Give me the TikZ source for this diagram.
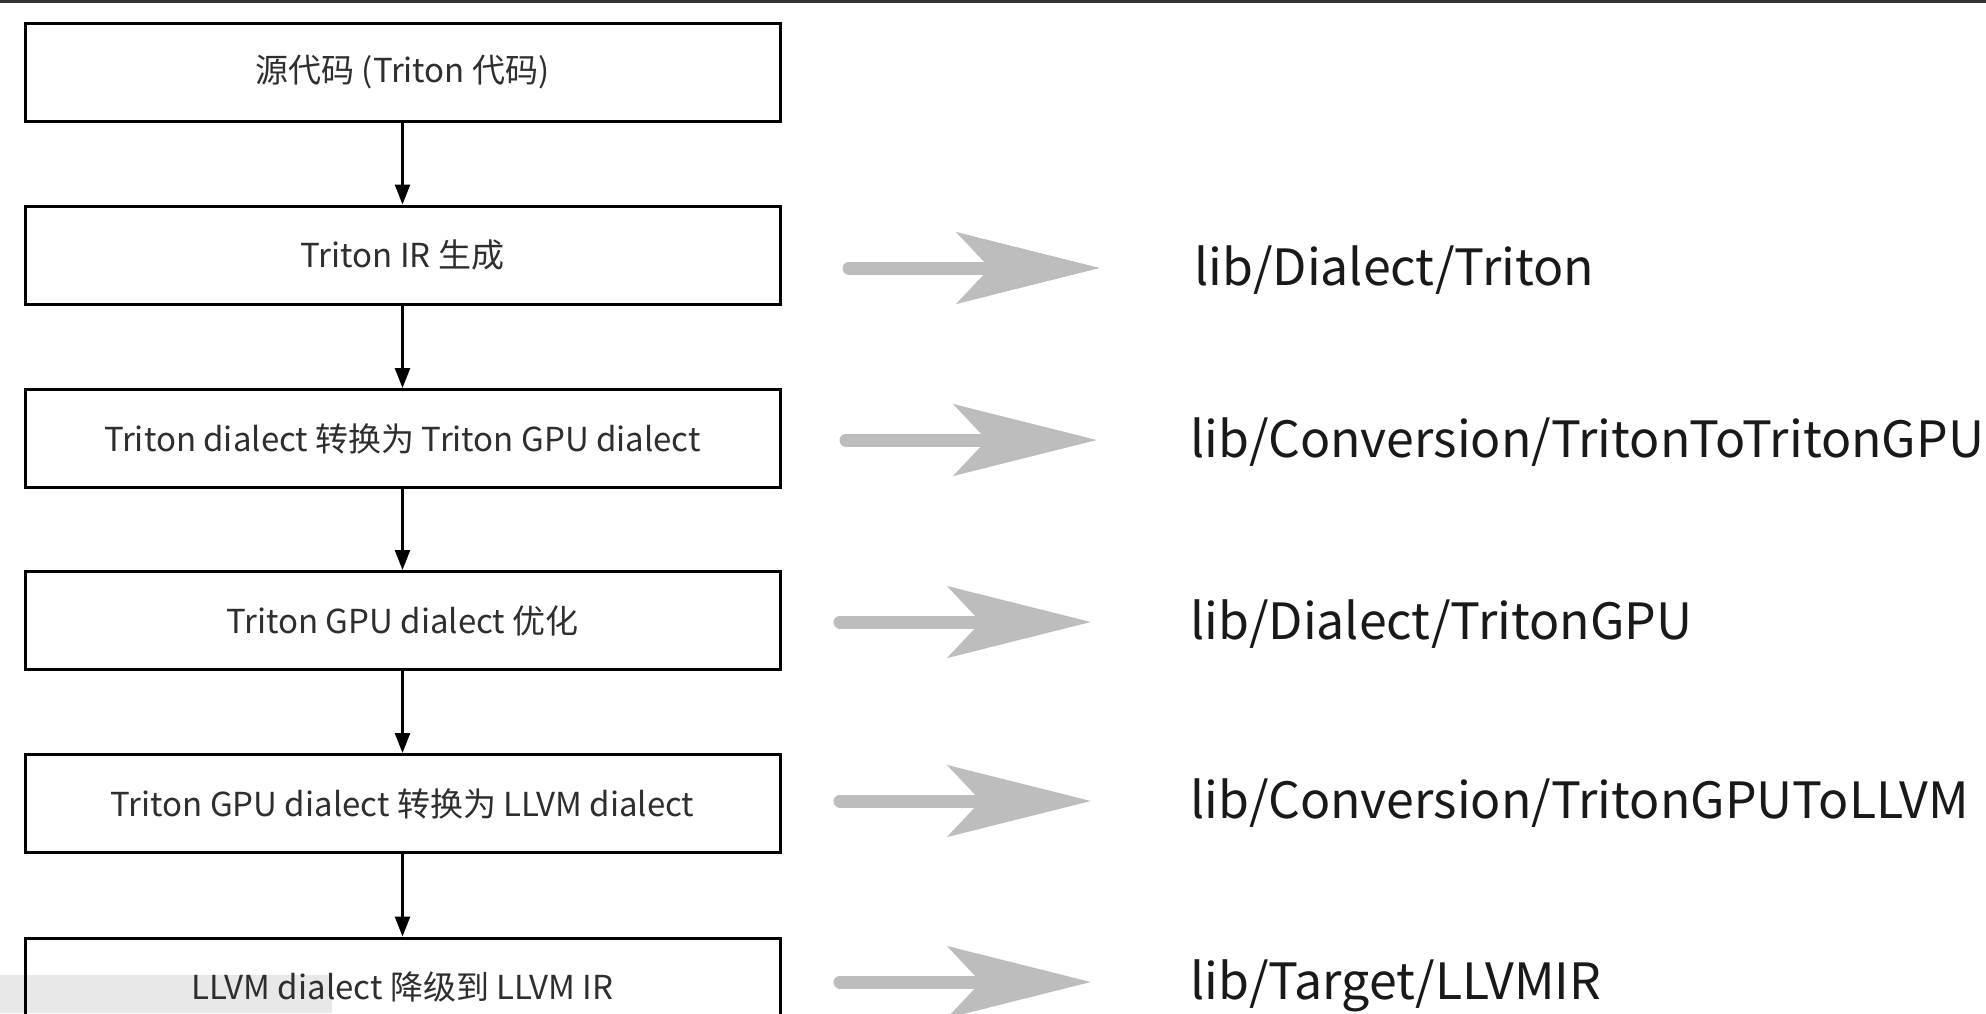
\documentclass[tikz,border=0pt]{standalone}
\usepackage{fontspec}
\newfontfamily\cjk{Noto Sans CJK SC}
\usetikzlibrary{arrows.meta}
\begin{document}
\begin{tikzpicture}[x=1pt,y=-1pt,
  stepbox/.style={draw=black,line width=3pt,minimum width=755pt,minimum height=98pt,inner sep=0pt,font=\cjk\fontsize{33}{36}\selectfont,text=black!82},
  flow/.style={line width=2.5pt,-{Triangle[length=20pt,width=15pt]}},
  bigarrow/.style={draw=black!26,line width=13pt,line cap=round,-{Stealth[length=143pt,width=71pt,inset=33pt]}},
  pathlabel/.style={anchor=base west,inner sep=0pt,font=\cjk\fontsize{50}{56}\selectfont,text=black!90}]
\useasboundingbox (0,0) rectangle (1986,1013);
\clip (0,0) rectangle (1986,1013);
\fill[white] (0,0) rectangle (1986,1013);
\fill[black!80] (0,0) rectangle (1986,3);
% player overlay strip (behind)
\fill[black!9] (0,975) rectangle (332,1013);
% boxes
\node[stepbox] (b1) at (402.5,72.5) {源代码 (Triton 代码)};
\node[stepbox] (b2) at (402.5,255) {Triton IR 生成};
\node[stepbox] (b3) at (402.5,438.5) {Triton dialect 转换为 Triton GPU dialect};
\node[stepbox] (b4) at (402.5,620.5) {Triton GPU dialect 优化};
\node[stepbox] (b5) at (402.5,803.5) {Triton GPU dialect 转换为 LLVM dialect};
\node[stepbox] (b6) at (402.5,987) {LLVM dialect 降级到 LLVM IR};
\draw[flow] (b1.south) -- (b2.north);
\draw[flow] (b2.south) -- (b3.north);
\draw[flow] (b3.south) -- (b4.north);
\draw[flow] (b4.south) -- (b5.north);
\draw[flow] (b5.south) -- (b6.north);
% gray arrows
\coordinate (s2) at (849,268); \coordinate (e2) at (1100,268);
\coordinate (s3) at (846,440); \coordinate (e3) at (1097,440);
\coordinate (s4) at (840,622); \coordinate (e4) at (1091,622);
\coordinate (s5) at (840,801); \coordinate (e5) at (1091,801);
\coordinate (s6) at (840,982); \coordinate (e6) at (1091,982);
\foreach \i in {2,...,6} {\draw[bigarrow] (s\i) -- (e\i);}
% labels
\node[pathlabel] (l2) at (1194,285) {lib/Dialect/Triton};
\node[pathlabel] (l3) at (1190,457) {lib/Conversion/TritonToTritonGPU};
\node[pathlabel] (l4) at (1190,639) {lib/Dialect/TritonGPU};
\node[pathlabel] (l5) at (1190,818) {lib/Conversion/TritonGPUToLLVM};
\node[pathlabel] (l6) at (1190,999) {lib/Target/LLVMIR};
\end{tikzpicture}
\end{document}
